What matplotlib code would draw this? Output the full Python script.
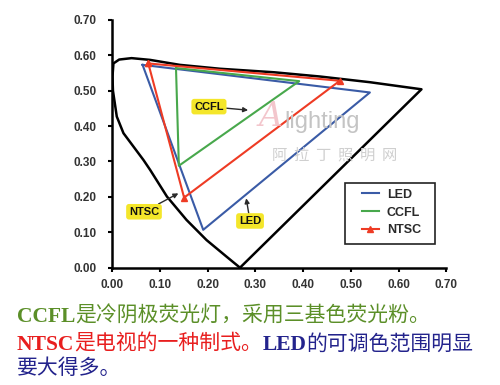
import matplotlib
matplotlib.use("Agg")
import matplotlib.pyplot as plt
from matplotlib.patches import Rectangle
from matplotlib.offsetbox import TextArea, HPacker, AnnotationBbox

# Spectral locus (stylised horseshoe).
locus_x = [0.268, 0.240, 0.198, 0.156, 0.115, 0.080, 0.066, 0.045, 0.024, 0.010,
           0.002, 0.001, 0.003, 0.015, 0.041, 0.080, 0.142, 0.226, 0.340, 0.436,
           0.540, 0.648, 0.268]
locus_y = [0.000, 0.031, 0.078, 0.135, 0.201, 0.276, 0.304, 0.342, 0.380, 0.427,
           0.500, 0.540, 0.577, 0.588, 0.592, 0.587, 0.573, 0.562, 0.552, 0.540,
           0.524, 0.504, 0.000]

# Gamut triangles (closed).
led_x = [0.064, 0.540, 0.191, 0.064]
led_y = [0.573, 0.495, 0.107, 0.573]
ccfl_x = [0.134, 0.392, 0.140, 0.134]
ccfl_y = [0.564, 0.527, 0.288, 0.564]
ntsc_x = [0.076, 0.477, 0.151, 0.076]
ntsc_y = [0.577, 0.528, 0.198, 0.577]

ticks = [0.0, 0.1, 0.2, 0.3, 0.4, 0.5, 0.6, 0.7]
tick_labels = ["0.00", "0.10", "0.20", "0.30", "0.40", "0.50", "0.60", "0.70"]

BLUE = "#3a5ba6"
GREEN = "#48a84c"
RED = "#ee3b24"
YELLOW = "#f4e62a"
INK = "#2a2a2a"

plt.rcParams["font.family"] = ["Liberation Sans", "DejaVu Sans"]

fig = plt.figure(figsize=(5, 3.85), dpi=100)
ax = fig.add_axes([0.224, 0.3047, 0.6686, 0.6436])

ax.plot(locus_x, locus_y, color="black", lw=1.8, zorder=3)
ax.plot(led_x, led_y, color=BLUE, lw=1.5, label="LED", zorder=4)
ax.plot(ccfl_x, ccfl_y, color=GREEN, lw=1.5, label="CCFL", zorder=4)
ax.plot(ntsc_x, ntsc_y, color=RED, lw=1.5, marker="^", ms=4.5,
        label="NTSC", zorder=5)

ax.set_xlim(0, 0.70)
ax.set_ylim(0, 0.70)
ax.set_xticks(ticks, tick_labels)
ax.set_yticks(ticks, tick_labels)
for s in ("top", "right"):
    ax.spines[s].set_visible(False)
for s in ("left", "bottom"):
    ax.spines[s].set_linewidth(1.8)
ax.tick_params(direction="out", length=3, width=1.5, labelsize=8.5,
               labelcolor="#333333")
ax.tick_params(axis="x", pad=5.5)
ax.tick_params(axis="y", pad=8)
for lab in ax.get_xticklabels() + ax.get_yticklabels():
    lab.set_fontweight("bold")

# Yellow callout labels.
box = dict(boxstyle="round,pad=0.25", fc=YELLOW, ec="none")
arrow = dict(arrowstyle="-|>", color=INK, lw=1.0, mutation_scale=7,
             shrinkA=0, shrinkB=0)
for txt, xy, xytext in [("CCFL", (0.285, 0.445), (0.203, 0.455)),
                        ("NTSC", (0.139, 0.210), (0.067, 0.158)),
                        ("LED", (0.281, 0.196), (0.289, 0.132))]:
    ax.annotate(txt, xy=xy, xytext=xytext, ha="center", va="center",
                fontsize=8, fontweight="bold", color="#111111", bbox=box,
                arrowprops=arrow, zorder=6)

# Legend with a square frame.
leg = ax.legend(loc="upper left", bbox_to_anchor=(0.747, 0.3186),
                frameon=False, borderpad=0, borderaxespad=0,
                handlelength=1.35, handletextpad=0.65, labelspacing=0.47,
                prop={"size": 9, "weight": "bold"})
for t in leg.get_texts():
    t.set_color(INK)
ax.add_patch(Rectangle((0.697, 0.094), 0.269, 0.247, transform=ax.transAxes,
                       fill=False, ec="#222222", lw=1.2, zorder=6))

# Faint watermark.
fig.text(0.518, 0.672, "A", fontsize=24, style="italic", color="#f0b8c0",
         family="DejaVu Serif", alpha=0.8)
fig.text(0.568, 0.668, "lighting", fontsize=17, color="#c4c4c4")
fig.text(0.544, 0.585, "阿  拉  丁  照  明  网", fontsize=11, color="#cfcfcf",
         family=["Noto Sans CJK SC"])

# Bottom caption, mixing bold serif Latin with CJK.
GREEN_T = "#5b8f28"
RED_T = "#e81e1e"
NAVY_T = "#23238c"


def seg(s, color, latin):
    if latin:
        props = dict(family="Liberation Serif", weight="bold", size=15.5,
                     color=color)
    else:
        props = dict(family=["Noto Sans CJK SC"], size=15, color=color)
    return TextArea(s, textprops=props)


lines = [
    [("CCFL", GREEN_T, True), ("是冷阴极荧光灯，采用三基色荧光粉。", GREEN_T, False)],
    [("NTSC", RED_T, True), ("是电视的一种制式。", RED_T, False),
     ("LED", NAVY_T, True), ("的可调色范围明显", NAVY_T, False)],
    [("要大得多。", NAVY_T, False)],
]
centers = [316, 344, 368]
for parts, cy in zip(lines, centers):
    pack = HPacker(children=[seg(*p) for p in parts], align="baseline",
                   pad=0, sep=0)
    ab = AnnotationBbox(pack, (17 / 500, 1 - cy / 385),
                        xycoords="figure fraction", box_alignment=(0, 0.5),
                        frameon=False, pad=0)
    fig.add_artist(ab)

fig.savefig("out.png", dpi=100)
